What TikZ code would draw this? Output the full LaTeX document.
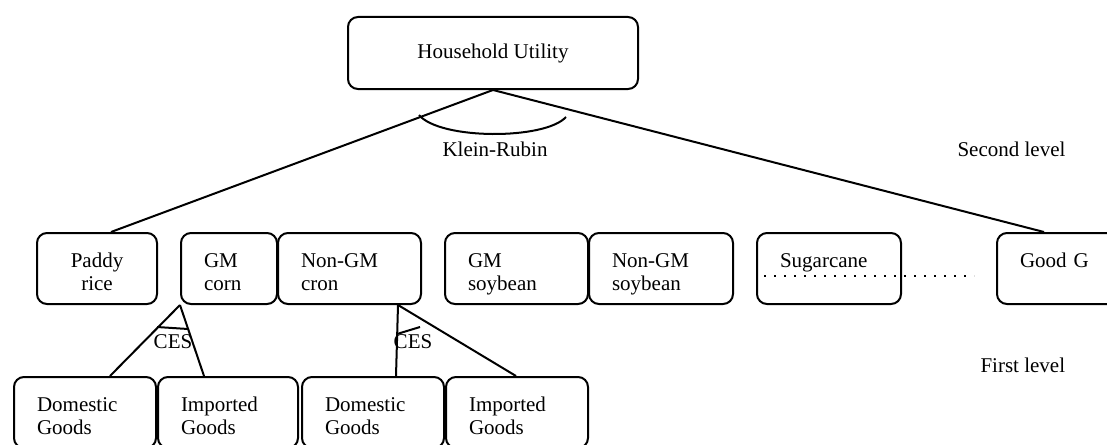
\documentclass[tikz,border=0pt]{standalone}
\usepackage{fontspec}
\setmainfont{Liberation Serif}
\usetikzlibrary{calc}
\tikzset{>=latex}

\begin{document}
\begin{tikzpicture}[x=1pt,y=-1pt,
    font=\fontsize{21}{23.5}\selectfont,
    good/.style={draw, line width=2pt, rounded corners=10pt, anchor=north west,
      inner xsep=23pt, inner ysep=0pt, text height=34pt, text depth=37pt,
      align=left, text width=#1}]
    \useasboundingbox (0,0) rectangle (1107,444);
    \clip (0,0) rectangle (1107,444);
    \node[draw, line width=2pt, rounded corners=10pt, anchor=north west,
      minimum width=290pt, minimum height=72pt] (U) at (347,16) {Household Utility};
    \begin{scope}[every node/.style={good=98pt}]
      \node[text width=74pt, align=center] (P) at (36,232) {Paddy\\rice};
      \node[text width=50pt] (GC) at (180,232) {GM\\corn};
      \node[text width=97pt] (NC) at (277,232) {Non-GM\\cron};
      \node[text width=97pt] (GS) at (444,232) {GM\\soybean};
      \node (NS) at (588,232) {Non-GM\\soybean};
      \node (S) at (756,232) {Sugarcane};
      \node (G) at (996,232) {Good G};
      \node[text width=96pt] (D1) at (13,376) {Domestic\\Goods};
      \node[text width=94pt] (I1) at (157,376) {Imported\\Goods};
      \node[text width=96pt] (D2) at (301,376) {Domestic\\Goods};
      \node[text width=96pt] (I2) at (445,376) {Imported\\Goods};
    \end{scope}
    \node (KR) at (495,149) {Klein-Rubin};
    \node (CA) at (173,342) {CES};
    \node (CB) at (413,342) {CES};
    \node[anchor=west] (L2) at (954,149) {Second level};
    \node[anchor=west] (L1) at (977,365) {First level};
    \begin{scope}[every edge/.style={draw=black, line width=2pt}]
      \path (U.south) edge ($(P.north)+(14,0)$);
      \path (U.south) edge ($(G.north west)+(48,0)$);
      \path (GC.south west) edge ($(D1.north)+(25,0)$);
      \path (GC.south west) edge ($(I1.north west)+(47,0)$);
      \path ($(NC.south east)+(-24,0)$) edge ($(D2.north west)+(95,0)$);
      \path ($(NC.south east)+(-24,0)$) edge ($(I2.north west)+(71,0)$);
    \end{scope}
    % marks for the nests
    \draw[line width=2pt] (419,115) .. controls (440,140) and (545,140) .. (566,117);
    \draw[line width=2pt] (157,327) -- (188,329);
    \draw[line width=2pt] (397,334) -- (420,327);
    \draw[line width=2pt, dash pattern=on 2pt off 8pt] (764,276) -- (974,276);
\end{tikzpicture}
\end{document}
